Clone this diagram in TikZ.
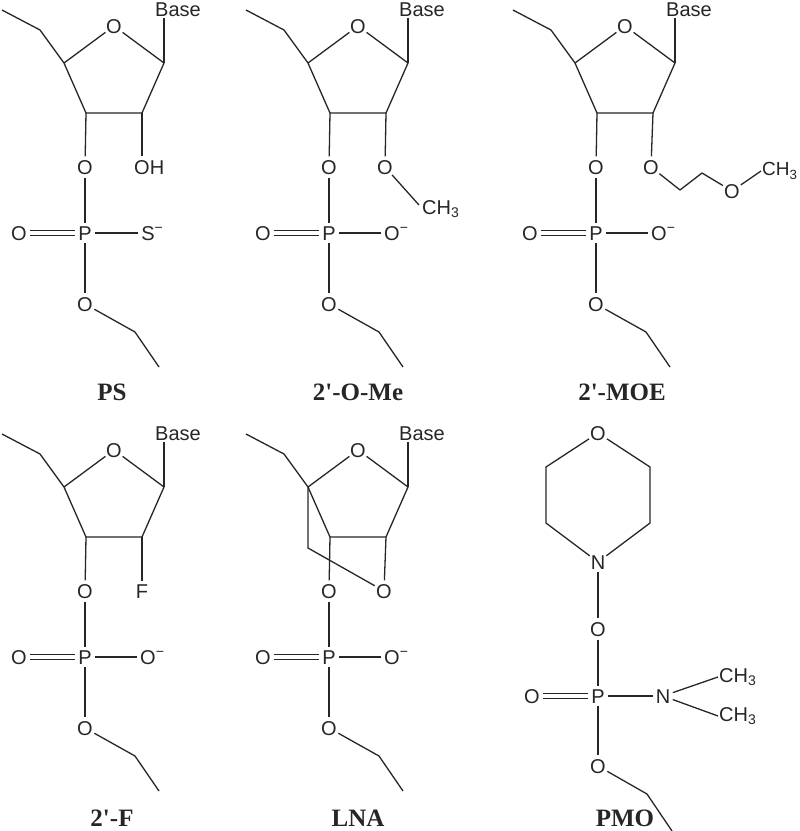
\documentclass[tikz,border=0pt]{standalone}
\usepackage{fontspec}
\setmainfont{Liberation Sans}
\newfontfamily\captionserif{Liberation Serif}
\usepackage{tikz}
\tikzset{
  atom/.style={circle, inner sep=0pt, text height=14.3pt, text depth=0pt, font=\fontsize{20}{20}\selectfont},
  group/.style={inner sep=1pt, font=\fontsize{20}{20}\selectfont},
  bond/.style={line width=1.3pt, line join=round},
  dbond/.style={line width=1.1pt, double, double distance=3.6pt},
  caption/.style={inner sep=0pt, font=\captionserif\bfseries\fontsize{25}{25}\selectfont}
}
\newcommand{\minussup}{\rlap{\textsuperscript{−}}}

\begin{document}
\begin{tikzpicture}[x=1pt, y=-1pt, color={black!85}]
\useasboundingbox (0,0) rectangle (800,831);
% sugar ring and phosphate of the five nucleotides
\foreach \nm/\dx/\dy/\charged/\capt/\capx/\capy in {ps/0/0/S/PS/112/392, ome/244/0/O/2'-O-Me/358/392, moe/511/0/O/2'-MOE/622/392, f/0/424/O/2'-F/112/818, lna/244/424/O/LNA/358/818} {
  \coordinate (tail\nm) at (\dx+2,\dy+10);
  \coordinate (ca\nm) at (\dx+40,\dy+30);
  \coordinate (c4\nm) at (\dx+64,\dy+63);
  \coordinate (c1\nm) at (\dx+164,\dy+63);
  \coordinate (c3\nm) at (\dx+86,\dy+113);
  \coordinate (c2\nm) at (\dx+142,\dy+113);
  \node[atom] (ring\nm) at (\dx+114,\dy+26) {O};
  \node[group] (base\nm) at (\dx+178,\dy+10) {Base};
  \node[atom] (o3\nm) at (\dx+85,\dy+167) {O};
  \node[atom] (p\nm) at (\dx+85,\dy+233) {P};
  \node[atom] (od\nm) at (\dx+19,\dy+233) {O};
  \node[atom] (ch\nm) at (\dx+148,\dy+233) {\charged\minussup};
  \node[atom] (o5\nm) at (\dx+85,\dy+304) {O};
  \coordinate (cb\nm) at (\dx+135,\dy+332);
  \coordinate (end\nm) at (\dx+159,\dy+367);
  \node[caption] (cap\nm) at (\capx,\capy) {\capt};
  \draw[bond] (tail\nm) -- (ca\nm) -- (c4\nm) -- (ring\nm) -- (c1\nm) -- (c2\nm) -- (c3\nm) -- (c4\nm);
  \draw[bond] (c1\nm) -- (c1\nm |- base\nm.south);
  \draw[bond] (c3\nm) -- (o3\nm);
  \draw[bond] (o3\nm) -- (p\nm);
  \draw[bond] (p\nm) -- (ch\nm);
  \draw[bond] (p\nm) -- (o5\nm);
  \draw[dbond] (p\nm) -- (od\nm);
  \draw[bond] (o5\nm) -- (cb\nm) -- (end\nm);
}
% PS
\node[atom] (ohps) at (142,167) {O\rlap{H}};
\draw[bond] (c2ps) -- (ohps);
% 2'-O-Me
\node[atom] (o2ome) at (385,167) {O};
\node[group, anchor=west] (meome) at (421,209) {CH\textsubscript{3}};
\coordinate (bondome) at (419,205);
\draw[bond] (c2ome) -- (o2ome);
\draw[bond] (o2ome) -- (bondome);
% 2'-MOE
\node[atom] (o2moe) at (651,167) {O};
\coordinate (cxmoe) at (680,190);
\coordinate (cymoe) at (702,173);
\node[atom] (omoe) at (732,191) {O};
\node[group, anchor=west, font=\fontsize{19}{19}\selectfont] (memoe) at (761,171) {CH\textsubscript{3}};
\draw[bond] (c2moe) -- (o2moe);
\draw[bond] (o2moe) -- (cxmoe) -- (cymoe) -- (omoe) -- (memoe.west);
% 2'-F
\node[atom] (ff) at (142,591) {F};
\draw[bond] (c2f) -- (ff);
% LNA
\node[atom] (o2lna) at (384,591) {O};
\coordinate (bridgelna) at (308,548);
\draw[bond] (c2lna) -- (o2lna);
\draw[bond] (c4lna) -- (bridgelna) -- (o2lna);
% PMO
\node[atom] (oring) at (598,433) {O};
\coordinate (ra) at (546,467);
\coordinate (rb) at (546,523);
\node[atom] (nring) at (598,562) {N};
\coordinate (rc) at (650,523);
\coordinate (rd) at (650,467);
\node[atom] (olink) at (598,629) {O};
\node[atom] (pmo) at (598,696) {P};
\node[atom] (odmo) at (532,696) {O};
\node[atom] (namine) at (663,696) {N};
\node[group, anchor=west] (mea) at (718,677) {CH\textsubscript{3}};
\node[group, anchor=west] (meb) at (718,716) {CH\textsubscript{3}};
\node[atom] (omo) at (598,766) {O};
\coordinate (cmo) at (647,794);
\coordinate (endmo) at (672,831);
\node[caption] (capmo) at (625,818) {PMO};
\draw[bond] (oring) -- (ra) -- (rb) -- (nring) -- (rc) -- (rd) -- (oring);
\draw[bond] (nring) -- (olink);
\draw[bond] (olink) -- (pmo);
\draw[dbond] (pmo) -- (odmo);
\draw[bond] (pmo) -- (namine);
\draw[bond] (namine) -- (mea.west);
\draw[bond] (namine) -- (meb.west);
\draw[bond] (pmo) -- (omo);
\draw[bond] (omo) -- (cmo) -- (endmo);
\end{tikzpicture}
\end{document}
